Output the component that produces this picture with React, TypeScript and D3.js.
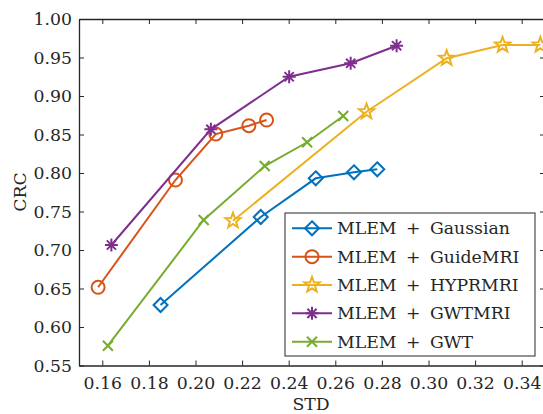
import { useEffect, useRef } from "react";
import * as d3 from "d3";

// series names and colours
const seriesNames = ["MLEM + Gaussian", "MLEM + GuideMRI", "MLEM + HYPRMRI", "MLEM + GWTMRI", "MLEM + GWT"];
const colors = ["#0072BD", "#D95319", "#EDB120", "#7E2F8E", "#77AC30"];
const markers = ["diamond", "circle", "star", "asterisk", "cross"];

// STD (x) and CRC (y) values
const gaussStd = [0.185, 0.228, 0.2516, 0.268, 0.278];
const gaussCrc = [0.6286, 0.7429, 0.7931, 0.8009, 0.8048];
const guideStd = [0.1582, 0.1914, 0.2087, 0.2229, 0.2305];
const guideCrc = [0.6516, 0.7909, 0.8506, 0.8614, 0.8688];
const hyprStd = [0.2161, 0.2734, 0.3078, 0.3318, 0.348];
const hyprCrc = [0.738, 0.8796, 0.949, 0.9662, 0.9662];
const gwtmriStd = [0.1639, 0.2066, 0.2402, 0.2666, 0.2863];
const gwtmriCrc = [0.7065, 0.8567, 0.925, 0.9425, 0.9653];
const gwtStd = [0.1624, 0.2035, 0.2297, 0.2479, 0.2634];
const gwtCrc = [0.5757, 0.739, 0.809, 0.8399, 0.874];

const xTicks = [0.16, 0.18, 0.2, 0.22, 0.24, 0.26, 0.28, 0.3, 0.32, 0.34];
const yTicks = [0.55, 0.6, 0.65, 0.7, 0.75, 0.8, 0.85, 0.9, 0.95, 1.0];

const allStd = [gaussStd, guideStd, hyprStd, gwtmriStd, gwtStd];
const allCrc = [gaussCrc, guideCrc, hyprCrc, gwtmriCrc, gwtCrc];

const width = 543;
const height = 414;
const margin = { top: 19, left: 79, bottom: 48.5, right: -2 };
const ink = "#262626";
const font = "DejaVu Serif";
const fontSize = 17.3;

function markerPath(kind: string) {
  const p = d3.path();
  if (kind === "diamond") {
    p.moveTo(0, -7); p.lineTo(7, 0); p.lineTo(0, 7); p.lineTo(-7, 0); p.closePath();
  } else if (kind === "circle") {
    p.arc(0, 0, 6.5, 0, Math.PI * 2);
  } else if (kind === "star") {
    const R = 8, r = 3.3;
    for (let i = 0; i < 10; i++) {
      const a = -Math.PI / 2 + (i * Math.PI) / 5;
      const rr = i % 2 === 0 ? R : r;
      if (i === 0) p.moveTo(rr * Math.cos(a), rr * Math.sin(a));
      else p.lineTo(rr * Math.cos(a), rr * Math.sin(a));
    }
    p.closePath();
  } else if (kind === "asterisk") {
    const s = 6.5, d = 4.6;
    p.moveTo(-s, 0); p.lineTo(s, 0);
    p.moveTo(0, -s); p.lineTo(0, s);
    p.moveTo(-d, -d); p.lineTo(d, d);
    p.moveTo(-d, d); p.lineTo(d, -d);
  } else {
    const d = 5;
    p.moveTo(-d, -d); p.lineTo(d, d);
    p.moveTo(-d, d); p.lineTo(d, -d);
  }
  return p.toString();
}

const App = () => {
  const svgRef = useRef<SVGSVGElement>(null);

  useEffect(() => {
    const svg = d3.select(svgRef.current);
    svg.selectAll("*").remove();

    const x = d3.scaleLinear().domain([0.15, 0.35]).range([margin.left, width - margin.right]);
    const y = d3.scaleLinear().domain([0.55, 1.0]).range([height - margin.bottom, margin.top]);

    const styleAxis = (g: any) => {
      g.select(".domain").attr("stroke", ink).attr("stroke-width", 1.3);
      g.selectAll(".tick line").attr("stroke", ink).attr("stroke-width", 1);
      g.selectAll(".tick text")
        .attr("fill", ink)
        .attr("font-family", font)
        .attr("font-size", fontSize);
    };

    // series lines and markers
    allStd.forEach((xs, i) => {
      const pts = xs.map((v, j) => [v, allCrc[i][j]] as [number, number]);
      const line = d3.line<[number, number]>().x((d) => x(d[0])).y((d) => y(d[1]));
      svg.append("path")
        .attr("d", line(pts))
        .attr("fill", "none")
        .attr("stroke", colors[i])
        .attr("stroke-width", 2);
      svg.append("g")
        .selectAll("path")
        .data(pts)
        .enter()
        .append("path")
        .attr("transform", (d) => `translate(${x(d[0])},${y(d[1])})`)
        .attr("d", markerPath(markers[i]))
        .attr("fill", "none")
        .attr("stroke", colors[i])
        .attr("stroke-width", 2);
    });

    // axes (ticks inside, box on all sides)
    svg.append("g")
      .attr("transform", `translate(0,${height - margin.bottom})`)
      .call(d3.axisBottom(x).tickValues(xTicks).tickFormat(d3.format(".2f")).tickSize(-5).tickSizeOuter(0).tickPadding(11))
      .call(styleAxis);
    svg.append("g")
      .attr("transform", `translate(${margin.left},0)`)
      .call(d3.axisLeft(y).tickValues(yTicks).tickFormat(d3.format(".2f")).tickSize(-5).tickSizeOuter(0).tickPadding(7))
      .call(styleAxis);
    svg.append("g")
      .attr("transform", `translate(0,${margin.top})`)
      .call(d3.axisTop(x).tickValues(xTicks).tickFormat(() => "").tickSize(-5).tickSizeOuter(0))
      .call(styleAxis);
    svg.append("g")
      .attr("transform", `translate(${width - margin.right},0)`)
      .call(d3.axisRight(y).tickValues(yTicks).tickFormat(() => "").tickSize(-5).tickSizeOuter(0))
      .call(styleAxis);

    // axis labels
    svg.append("text")
      .attr("x", 311)
      .attr("y", 410)
      .attr("text-anchor", "middle")
      .attr("font-family", font)
      .attr("font-size", fontSize)
      .attr("fill", ink)
      .text("STD");
    svg.append("text")
      .attr("transform", "translate(26,192) rotate(-90)")
      .attr("text-anchor", "middle")
      .attr("font-family", font)
      .attr("font-size", fontSize)
      .attr("fill", ink)
      .text("CRC");

    // legend
    const lg = svg.append("g").attr("transform", "translate(285,213)");
    lg.append("rect")
      .attr("width", 250)
      .attr("height", 143)
      .attr("fill", "white")
      .attr("stroke", ink)
      .attr("stroke-width", 1);
    seriesNames.forEach((name, i) => {
      const cy = 15.3 + i * 28.35;
      lg.append("line")
        .attr("x1", 7).attr("x2", 47)
        .attr("y1", cy).attr("y2", cy)
        .attr("stroke", colors[i])
        .attr("stroke-width", 2);
      lg.append("path")
        .attr("transform", `translate(27,${cy})`)
        .attr("d", markerPath(markers[i]))
        .attr("fill", "none")
        .attr("stroke", colors[i])
        .attr("stroke-width", 2);
      lg.append("text")
        .attr("x", 52)
        .attr("y", cy + 6)
        .attr("font-family", font)
        .attr("font-size", fontSize)
        .attr("fill", ink)
        .attr("word-spacing", 4)
        .text(name);
    });
  }, []);

  return (
    <svg
      ref={svgRef}
      width={width}
      height={height}
      style={{ position: "absolute", left: 0, top: 0, background: "white" }}
    />
  );
};

export default App;
